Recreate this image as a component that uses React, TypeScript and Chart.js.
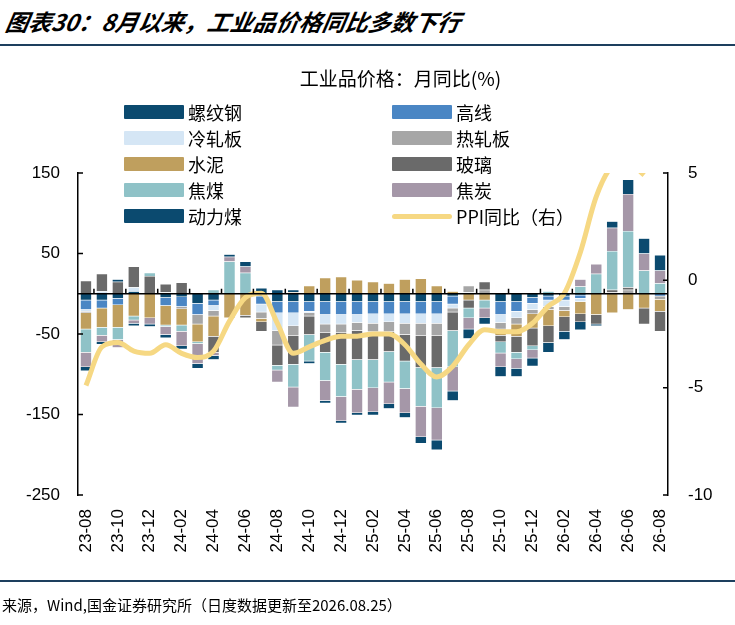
import React, { useEffect, useRef } from "react"
import { Chart, registerables } from "chart.js"

Chart.register(...registerables)

const months = [
  "23-08", "23-09", "23-10", "23-11", "23-12", "24-01", "24-02", "24-03", "24-04", "24-05",
  "24-06", "24-07", "24-08", "24-09", "24-10", "24-11", "24-12", "25-01", "25-02", "25-03",
  "25-04", "25-05", "25-06", "25-07", "25-08", "25-09", "25-10", "25-11", "25-12", "26-01",
  "26-02", "26-03", "26-04", "26-05", "26-06", "26-07", "26-08",
]

const rebar = [-8, -8, -6, 3, 0, -5, -4, -12, -8, 0, 0, -3, -10, -10, -10, -10, -10, -10, -10, -10, -10, -10, -10, -3, 0, 0, -10, -10, -5, -3, -3, -2, 0, 0, 0, 0, 0]
const wire = [-12, -10, -8, 0, 0, -10, -12, -14, -7, 0, 0, -10, -14, -14, -12, -16, -16, -16, -15, -15, -15, -15, -15, -10, 0, 0, -16, -12, -7, -5, -5, -4, 0, 0, 0, 0, -3]
const coldRolled = [-2, 3, 0, 5, 0, 2, 0, 0, -6, 0, 0, -10, -22, -16, -2, -12, -12, -10, -12, -10, -12, -12, -12, -5, 2, 0, -10, -8, -8, -8, -8, -4, 0, 0, 0, 0, 0]
const hotRolled = [-2, 0, 0, 0, 0, 0, -3, -12, -7, 0, 0, -8, -18, -12, -4, -10, -10, -10, -10, -12, -14, -15, -15, -5, 8, 5, -8, -8, -5, -4, -5, 0, 0, 2, 5, 0, -4]
const cement = [-20, -24, -28, -28, -30, -24, -20, -22, -25, -30, -27, -4, 0, 2, 10, 20, 21, 17, 15, 13, 18, 19, 10, 3, -8, -8, -8, -15, -18, -20, -8, -15, -26, -24, -20, -18, -15]
const glass = [16, 22, 15, 26, 22, 10, 14, 0, -20, 0, -3, -12, -25, -36, -23, -25, -40, -36, -35, -25, -33, -40, -40, -23, -10, 10, -8, -20, -22, -21, -18, -10, -12, 3, 3, -20, -25]
const cokingCoal = [-29, -10, -15, -5, 4, -2, -8, -2, 5, 40, 26, 0, -6, -28, -33, -35, -40, -37, -35, -38, -34, -48, -50, -45, -12, -10, -14, -8, -5, 3, 0, 9, 25, 48, 70, 29, 13]
const coke = [-18, -8, -10, -4, -8, -10, -18, -25, -4, 6, 8, 0, -15, -25, 0, -25, -30, -29, -30, -27, -30, -38, -40, -30, -14, -12, -17, -12, -10, 0, 0, 9, 12, 29, 46, 21, 16]
const thermalCoal = [-5, -3, 3, -3, -3, -4, -4, -6, -5, 3, 6, 7, 5, 3, -3, -3, -3, -3, -4, -6, -6, -8, -12, -12, -12, -8, -12, -10, -10, -12, -10, -10, -2, 8, 18, 19, 19]
const ppi = [-4.9, -3.1, -2.9, -3.3, -3.4, -3.0, -3.4, -3.6, -3.3, -1.9, -0.8, -0.6, -2.0, -3.4, -3.1, -2.8, -2.6, -2.6, -2.5, -2.5, -3.0, -3.9, -4.5, -4.0, -3.0, -2.3, -2.4, -2.4, -2.0, -1.2, -0.6, 1.3, 3.9, 5.3, 5.5, 4.9, null]

const barSeries = [
  { name: "螺纹钢", data: rebar, color: "#0b4a6f" },
  { name: "高线", data: wire, color: "#4a86c4" },
  { name: "冷轧板", data: coldRolled, color: "#d5e6f5" },
  { name: "热轧板", data: hotRolled, color: "#a6a6a6" },
  { name: "水泥", data: cement, color: "#bf9f5e" },
  { name: "玻璃", data: glass, color: "#6a6a6a" },
  { name: "焦煤", data: cokingCoal, color: "#8fc2c7" },
  { name: "焦炭", data: coke, color: "#a597a8" },
  { name: "动力煤", data: thermalCoal, color: "#0b4a6f" },
]
const ppiName = "PPI同比（右）"
const ppiColor = "#f6d883"

const axisFont = { family: "'Liberation Sans', Arial, sans-serif", size: 17 }
const cjk = "'Noto Sans CJK SC', sans-serif"

const axisMarks = {
  id: "axisMarks",
  afterDatasetsDraw(chart: any) {
    const { ctx, chartArea, scales } = chart
    const y0 = scales.y.getPixelForValue(0)
    ctx.save()
    ctx.strokeStyle = "#000"
    ctx.lineWidth = 1.5
    ctx.beginPath()
    ctx.moveTo(chartArea.left, y0)
    ctx.lineTo(chartArea.right, y0)
    const step = (chartArea.right - chartArea.left) / months.length
    for (let i = 1; i < months.length; i += 2) {
      const x = chartArea.left + step * i
      ctx.moveTo(x, y0)
      ctx.lineTo(x, y0 - 5)
    }
    for (const t of scales.y.ticks) {
      const y = scales.y.getPixelForValue(t.value)
      ctx.moveTo(chartArea.left, y)
      ctx.lineTo(chartArea.left + 5, y)
    }
    for (const t of scales.y1.ticks) {
      const y = scales.y1.getPixelForValue(t.value)
      ctx.moveTo(chartArea.right, y)
      ctx.lineTo(chartArea.right - 5, y)
    }
    ctx.stroke()
    ctx.restore()
  },
}

const IndustrialChart: React.FC = () => {
  const chartRef = useRef<HTMLCanvasElement | null>(null)

  useEffect(() => {
    if (!chartRef.current) return
    const chart = new Chart(chartRef.current, {
      type: "bar",
      data: {
        labels: months,
        datasets: [
          {
            type: "line",
            label: ppiName,
            data: ppi,
            yAxisID: "y1",
            borderColor: ppiColor,
            borderWidth: 5,
            pointRadius: 0,
            cubicInterpolationMode: "monotone",
            order: 0,
          } as any,
          ...barSeries.map((s) => ({
            label: s.name,
            data: s.data,
            backgroundColor: s.color,
            borderColor: "rgba(255,255,255,0.6)",
            borderWidth: 0.5,
            stack: "s",
            barPercentage: 0.72,
            categoryPercentage: 1,
            order: 1,
          })),
        ],
      },
      options: {
        animation: false,
        responsive: false,
        maintainAspectRatio: false,
        layout: { padding: { top: 173, left: 0, right: 0, bottom: 0 } },
        plugins: { legend: { display: false }, tooltip: { enabled: false } },
        scales: {
          x: {
            stacked: true,
            grid: { display: false },
            border: { display: false },
            afterFit: (s: any) => { s.height = 130 },
            ticks: {
              autoSkip: false,
              maxRotation: 90,
              minRotation: 90,
              padding: 6,
              color: "#000",
              font: axisFont,
              callback: (_v: any, i: number) => (i % 2 === 0 ? months[i] : ""),
            },
          },
          y: {
            stacked: true,
            min: -250,
            max: 150,
            afterFit: (s: any) => { s.width = 78 },
            grid: { display: false },
            border: { color: "#000", width: 1.5 },
            ticks: { stepSize: 100, color: "#000", font: axisFont, padding: 10 },
          },
          y1: {
            position: "right",
            min: -10,
            max: 5,
            afterFit: (s: any) => { s.width = 67 },
            grid: { display: false },
            border: { color: "#000", width: 1.5 },
            ticks: { stepSize: 5, color: "#000", font: axisFont, padding: 12 },
          },
        },
      },
      plugins: [axisMarks],
    })
    return () => {
      chart.destroy()
    }
  }, [])

  return <canvas ref={chartRef} width={735} height={625} style={{ position: "absolute", left: 0, top: 0 }} />
}

const legendItems = [
  ...barSeries.map((s) => ({ name: s.name, color: s.color, line: false })),
  { name: ppiName, color: ppiColor, line: true },
]

export default function App() {
  return (
    <div style={{ position: "fixed", left: 0, top: 0, width: 735, height: 625, background: "#fff", overflow: "hidden" }}>
      <div style={{ position: "absolute", left: 6, top: 4, fontFamily: cjk, fontWeight: 700, fontStyle: "italic", fontSize: 23, transform: "skewX(-10deg)", color: "#000" }}>
        图表30：8月以来，工业品价格同比多数下行
      </div>
      <div style={{ position: "absolute", left: 0, top: 44, width: 735, height: 1.5, background: "#1d3f5e" }} />
      <IndustrialChart />
      <div style={{ position: "absolute", left: 0, width: 735, top: 64, textAlign: "center", paddingLeft: 66, boxSizing: "border-box", fontFamily: cjk, fontSize: 19, color: "#000" }}>
        工业品价格：月同比(%)
      </div>
      {legendItems.map((it, i) => {
        const col = i % 2
        const row = Math.floor(i / 2)
        return (
          <div key={it.name} style={{ position: "absolute", left: col === 0 ? 124 : 392, top: 99 + row * 26, display: "flex", alignItems: "center", fontFamily: cjk, fontSize: 18, color: "#000", height: 26 }}>
            <div style={{ width: 60, height: it.line ? 5 : 14, background: it.color, borderRadius: it.line ? 3 : 1, marginRight: 4 }} />
            <span>{it.name}</span>
          </div>
        )
      })}
      <div style={{ position: "absolute", left: 0, top: 580, width: 735, height: 1.5, background: "#1d3f5e" }} />
      <div style={{ position: "absolute", left: 2, top: 594, fontFamily: cjk, fontSize: 15, color: "#000" }}>
        来源，Wind,国金证券研究所（日度数据更新至2026.08.25）
      </div>
    </div>
  )
}
